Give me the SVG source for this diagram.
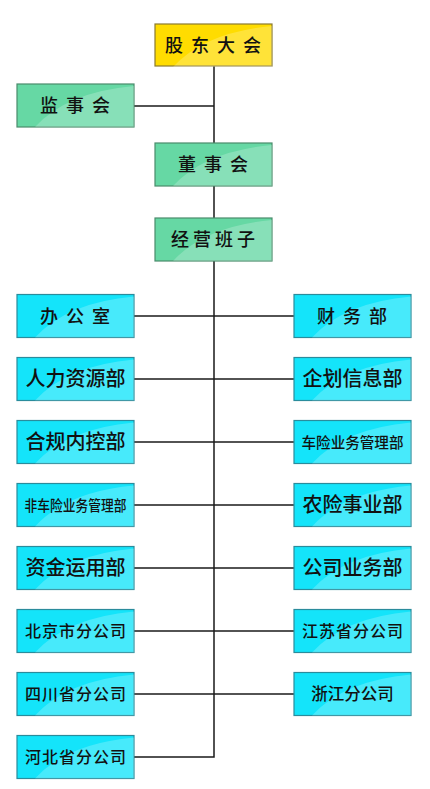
<svg xmlns="http://www.w3.org/2000/svg" width="430" height="789" viewBox="0 0 430 789">
<defs>
<style>
.box{stroke-width:1.2}
.y{fill:#ffdc00;stroke:#8a7a30}
.g{fill:#66d8a4;stroke:#4a8c6c}
.c{fill:#14e4fa;stroke:#2a8c9c}
.sh{fill:#ffffff;opacity:0.22}
.t{font-family:"Noto Sans CJK SC","Noto Sans CJK JP",sans-serif;fill:#111;text-anchor:middle;font-weight:500}
.big{font-size:18px;letter-spacing:8px}
.m{font-size:20px}
.s6{font-size:16px;letter-spacing:1px}
.sm{font-size:15px}
.ln{stroke:#1a1a1a;stroke-width:1.5;fill:none}
</style>
<path id="shine" d="M18 43 Q50 8 117 2 L117 43 Z"/>
</defs>
<rect width="430" height="789" fill="#ffffff"/>
<g id="connectors" class="ln">
<path d="M214 66 V757 H134"/>
<path d="M134 106 H214"/>
<path d="M134 316 H294"/>
<path d="M134 379 H294"/>
<path d="M134 442 H294"/>
<path d="M134 505 H294"/>
<path d="M134 568 H294"/>
<path d="M134 631 H294"/>
<path d="M134 694 H294"/>
</g>
<g id="n-gudong" transform="translate(155,24)"><rect class="box y" width="117" height="42"/><use href="#shine" class="sh"/><text class="t big" x="62" y="28">股东大会</text></g>
<g id="n-jianshi" transform="translate(17,84)"><rect class="box g" width="117" height="43"/><use href="#shine" class="sh"/><text class="t big" x="62" y="28">监事会</text></g>
<g id="n-dongshi" transform="translate(155,143)"><rect class="box g" width="117" height="43"/><use href="#shine" class="sh"/><text class="t big" x="62" y="28">董事会</text></g>
<g id="n-jingying" transform="translate(155,218)"><rect class="box g" width="117" height="43"/><use href="#shine" class="sh"/><text class="t" font-size="18" x="60" y="28" letter-spacing="4">经营班子</text></g>

<g id="n-bangong" transform="translate(17,294.5)"><rect class="box c" width="117" height="43"/><use href="#shine" class="sh"/><text class="t big" x="62" y="28">办公室</text></g>
<g id="n-renli" transform="translate(17,357.5)"><rect class="box c" width="117" height="43"/><use href="#shine" class="sh"/><text class="t m" x="58.5" y="28.5">人力资源部</text></g>
<g id="n-hegui" transform="translate(17,420.5)"><rect class="box c" width="117" height="43"/><use href="#shine" class="sh"/><text class="t m" x="58.5" y="28.5">合规内控部</text></g>
<g id="n-feiche" transform="translate(17,483.5)"><rect class="box c" width="117" height="43"/><use href="#shine" class="sh"/><text class="t sm" x="58.5" y="27" textLength="102" lengthAdjust="spacingAndGlyphs">非车险业务管理部</text></g>
<g id="n-zijin" transform="translate(17,546.5)"><rect class="box c" width="117" height="43"/><use href="#shine" class="sh"/><text class="t m" x="58.5" y="28.5">资金运用部</text></g>
<g id="n-beijing" transform="translate(17,609.5)"><rect class="box c" width="117" height="43"/><use href="#shine" class="sh"/><text class="t s6" x="59" y="27.5">北京市分公司</text></g>
<g id="n-sichuan" transform="translate(17,672.5)"><rect class="box c" width="117" height="43"/><use href="#shine" class="sh"/><text class="t s6" x="59" y="27.5">四川省分公司</text></g>
<g id="n-hebei" transform="translate(17,735.5)"><rect class="box c" width="117" height="43"/><use href="#shine" class="sh"/><text class="t s6" x="59" y="27.5">河北省分公司</text></g>

<g id="n-caiwu" transform="translate(294,294.5)"><rect class="box c" width="117" height="43"/><use href="#shine" class="sh"/><text class="t big" x="62" y="28">财务部</text></g>
<g id="n-qihua" transform="translate(294,357.5)"><rect class="box c" width="117" height="43"/><use href="#shine" class="sh"/><text class="t m" x="58.5" y="28.5">企划信息部</text></g>
<g id="n-chexian" transform="translate(294,420.5)"><rect class="box c" width="117" height="43"/><use href="#shine" class="sh"/><text class="t sm" x="58.5" y="27" textLength="102" lengthAdjust="spacingAndGlyphs">车险业务管理部</text></g>
<g id="n-nongxian" transform="translate(294,483.5)"><rect class="box c" width="117" height="43"/><use href="#shine" class="sh"/><text class="t m" x="58.5" y="28.5">农险事业部</text></g>
<g id="n-gongsi" transform="translate(294,546.5)"><rect class="box c" width="117" height="43"/><use href="#shine" class="sh"/><text class="t m" x="58.5" y="28.5">公司业务部</text></g>
<g id="n-jiangsu" transform="translate(294,609.5)"><rect class="box c" width="117" height="43"/><use href="#shine" class="sh"/><text class="t s6" x="59" y="27.5">江苏省分公司</text></g>
<g id="n-zhejiang" transform="translate(294,672.5)"><rect class="box c" width="117" height="43"/><use href="#shine" class="sh"/><text class="t" font-size="16.5" x="58.5" y="27.5">浙江分公司</text></g>
</svg>
